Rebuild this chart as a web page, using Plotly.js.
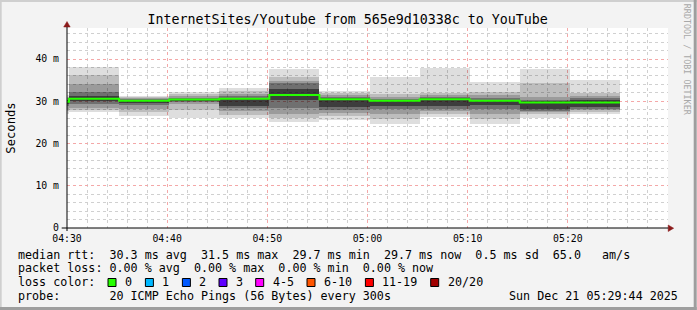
<!DOCTYPE html>
<html>
<head>
<meta charset="utf-8">
<script src="https://cdn.plot.ly/plotly-3.0.1.min.js"></script>
<style>html,body{margin:0;padding:0;background:#f3f3f3;}#chart{width:697px;height:310px;}</style>
</head>
<body>
<div id="chart"></div>
<script>
// ---- data ----
const day = '2025-12-21';
const bandStart = ['04:25:12','04:30:12','04:35:12','04:40:12','04:45:12','04:50:12','04:55:12','05:00:12','05:05:12','05:10:12','05:15:12','05:20:12'];
const medianRtt = [29.9, 30.6, 30.1, 30.4, 30.6, 31.5, 30.5, 30.1, 30.5, 30.1, 29.7, 29.7];
// smoke layers (outer to inner), ms
const l1lo = [27.0, 27.4, 26.6, 26.0, 26.1, 25.2, 25.5, 24.6, 26.2, 24.6, 26.0, 27.1];
const l1hi = [31.5, 38.1, 31.3, 32.1, 33.2, 37.6, 32.4, 35.7, 37.9, 34.6, 37.6, 35.0];
const l2lo = [27.6, 28.0, 27.4, 28.0, 26.8, 26.0, 26.5, 25.8, 27.0, 25.8, 27.0, 27.5];
const l2hi = [31.0, 36.2, 31.0, 31.6, 32.5, 35.8, 31.9, 31.8, 32.0, 32.3, 34.3, 32.0];
const l3lo = [28.2, 28.5, 28.2, 29.3, 27.6, 27.0, 27.2, 27.0, 27.6, 27.0, 27.5, 27.9];
const l3hi = [30.7, 34.0, 30.8, 31.2, 31.8, 34.8, 31.4, 31.0, 31.4, 31.4, 31.1, 31.3];
const l4lo = [28.8, 29.3, 29.1, 29.8, 28.3, 28.5, 27.9, 28.1, 28.2, 28.2, 27.8, 28.2];
const l4hi = [30.4, 32.1, 30.5, 30.8, 31.2, 34.3, 31.0, 30.6, 31.0, 30.8, 30.4, 30.8];
const l5lo = [29.3, 30.0, 29.6, 30.1, 28.8, 30.2, 28.6, 28.8, 28.8, 29.0, 28.2, 28.7];
const l5hi = [30.2, 31.2, 30.3, 30.6, 30.8, 33.0, 30.7, 30.3, 30.7, 30.4, 30.0, 30.3];
const stepMinutes = 5;

const xTickLabels = ['04:30', '04:40', '04:50', '05:00', '05:10', '05:20'];
const yTickVals = [0, 10, 20, 30, 40];
const yTickText = ['0', '10 m', '20 m', '30 m', '40 m'];

const titleText = 'InternetSites/Youtube from 565e9d10338c to YouTube';
const legendRtt = 'median rtt:  30.3 ms avg  31.5 ms max  29.7 ms min  29.7 ms now  0.5 ms sd  65.0   am/s';
const legendLoss = 'packet loss: 0.00 % avg  0.00 % max  0.00 % min  0.00 % now';
const lossLabels = ['0', '1', '2', '3', '4-5', '6-10', '11-19', '20/20'];
const lossColors = ['#26ff00', '#00b8ff', '#0059ff', '#5e00ff', '#ff00ff', '#ff5500', '#ff0000', '#a10000'];
const probeText = 'probe:       20 ICMP Echo Pings (56 Bytes) every 300s';
const stampText = 'Sun Dec 21 05:29:44 2025';

// ---- helpers ----
const toMs = s => Date.parse(day + 'T' + s + 'Z');
const stepMs = stepMinutes * 60000;
const starts = bandStart.map(toMs);
const centers = starts.map(t => t + stepMs / 2);

// geometry of plot area in pixels
const L = 67.3, R = 668.3, T = 28, B = 228;
const px = x => (x - L) / (R - L);
const py = y => (B - y) / (B - T);

const layers = [
  [l1lo, l1hi, 'rgba(0,0,0,0.13)'],
  [l2lo, l2hi, 'rgba(0,0,0,0.15)'],
  [l3lo, l3hi, 'rgba(0,0,0,0.18)'],
  [l4lo, l4hi, 'rgba(0,0,0,0.28)'],
  [l5lo, l5hi, 'rgba(0,0,0,0.45)']
];
const traces = layers.map(([lo, hi, col]) => ({
  type: 'bar', x: centers, base: lo, y: hi.map((h, i) => h - lo[i]),
  width: starts.map(() => stepMs), marker: {color: col, line: {width: 0}},
  hoverinfo: 'skip', showlegend: false
}));
traces.push({
  type: 'scatter', mode: 'lines',
  x: starts.concat([starts[starts.length - 1] + stepMs]),
  y: medianRtt.concat([medianRtt[medianRtt.length - 1]]),
  line: {shape: 'hv', color: lossColors[0], width: 2},
  hoverinfo: 'skip', showlegend: false
});

const mono = 'DejaVu Sans Mono, monospace';
const ann = [];
function txt(text, x, y, size, anchor, extra) {
  ann.push(Object.assign({text: text, xref: 'paper', yref: 'paper', x: px(x), y: py(y),
    xanchor: anchor || 'left', yanchor: 'middle', showarrow: false,
    font: {family: mono, size: size, color: '#000'}}, extra || {}));
}
txt(legendRtt, 16, 254.5, 11.7);
txt(legendLoss, 16, 268, 11.7);
txt('loss color:', 16, 282, 11.7);
const boxX = [108.3, 145.7, 182.7, 219.3, 256, 307.3, 365.7, 431];
const shapes = [];
lossLabels.forEach((lab, i) => {
  shapes.push({type: 'rect', xref: 'paper', yref: 'paper', x0: px(boxX[i]), x1: px(boxX[i] + 8),
    y0: py(278.5), y1: py(286.5), fillcolor: lossColors[i], line: {color: '#000', width: 1}});
  txt(lab, boxX[i] + 15, 282, 11.7);
});
txt(probeText, 16, 296, 11.7);
txt(stampText, 680, 296, 11.7, 'right');
txt('RRDTOOL / TOBI OETIKER', 687.5, 60, 8.4, 'center', {textangle: 90, font: {family: mono, size: 8.4, color: '#a8a8a8'}});

// frame (3D border)
shapes.push({type: 'rect', xref: 'paper', yref: 'paper', x0: px(0), x1: px(697), y0: py(0), y1: py(2), fillcolor: '#cfcfcf', line: {width: 0}});
shapes.push({type: 'rect', xref: 'paper', yref: 'paper', x0: px(0), x1: px(2), y0: py(0), y1: py(310), fillcolor: '#cfcfcf', line: {width: 0}});
shapes.push({type: 'rect', xref: 'paper', yref: 'paper', x0: px(0), x1: px(697), y0: py(307), y1: py(310), fillcolor: '#9e9e9e', line: {width: 0}});
shapes.push({type: 'rect', xref: 'paper', yref: 'paper', x0: px(694), x1: px(697), y0: py(0), y1: py(310), fillcolor: '#9e9e9e', line: {width: 0}});
// axis arrows
const P = (x, y) => px(x) + ' ' + py(y);
shapes.push({type: 'path', xref: 'paper', yref: 'paper', path: 'M' + P(64, 27) + ' L' + P(70.5, 27) + ' L' + P(67.3, 21.5) + ' Z', fillcolor: '#8b1a1a', line: {color: '#8b1a1a', width: 0.5}});
shapes.push({type: 'path', xref: 'paper', yref: 'paper', path: 'M' + P(668.5, 225) + ' L' + P(668.5, 231.5) + ' L' + P(674, 228.2) + ' Z', fillcolor: '#8b1a1a', line: {color: '#8b1a1a', width: 0.5}});
shapes.push({type: 'line', xref: 'paper', yref: 'paper', x0: px(62), x1: px(668.5), y0: py(228), y1: py(228), line: {color: '#000', width: 1}});
shapes.push({type: 'line', xref: 'paper', yref: 'paper', x0: px(67.3), x1: px(67.3), y0: py(231), y1: py(27), line: {color: '#000', width: 1}});

const layout = {
  width: 697, height: 310,
  margin: {l: L, r: 697 - R, t: T, b: 310 - B, pad: 0},
  paper_bgcolor: '#f3f3f3', plot_bgcolor: '#ffffff',
  barmode: 'overlay', bargap: 0, showlegend: false,
  title: {text: titleText, xref: 'paper', x: px(348), xanchor: 'center', yref: 'container', y: 1 - 19 / 310, yanchor: 'middle',
    font: {family: mono, size: 13.3, color: '#000'}},
  xaxis: {type: 'date', range: [day + ' 04:30:00', day + ' 05:30:00'],
    tickmode: 'array', tickvals: xTickLabels.map(t => day + ' ' + t), ticktext: xTickLabels,
    showgrid: true, gridcolor: '#f4a8a8', griddash: 'dot', gridwidth: 1,
    minor: {dtick: 120000, tick0: day + ' 04:30:00', showgrid: true, gridcolor: '#d0d0d0', griddash: 'dot', gridwidth: 1},
    showline: false, zeroline: false, ticks: '', ticklabelstandoff: 3,
    tickfont: {family: mono, size: 9.8, color: '#000'}, fixedrange: true},
  yaxis: {range: [0, (B - T) / 4.225], tickmode: 'array', tickvals: yTickVals, ticktext: yTickText,
    showgrid: true, gridcolor: '#f4a8a8', griddash: 'dot', gridwidth: 1,
    minor: {dtick: 2, tick0: 0, showgrid: true, gridcolor: '#d0d0d0', griddash: 'dot', gridwidth: 1},
    showline: false, zeroline: false, ticks: '', ticklabelstandoff: 7,
    tickfont: {family: mono, size: 9.8, color: '#000'},
    title: {text: 'Seconds', standoff: 17, font: {family: mono, size: 12.2, color: '#000'}}, fixedrange: true},
  annotations: ann, shapes: shapes
};
Plotly.newPlot('chart', traces, layout, {displayModeBar: false, staticPlot: true});
</script>
</body>
</html>
